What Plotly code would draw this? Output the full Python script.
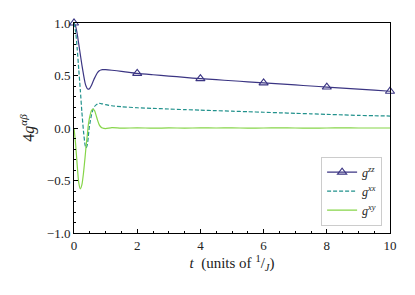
import plotly.graph_objects as go

# time samples and series values
t = [0.0, 0.05, 0.1, 0.15, 0.2, 0.25, 0.3, 0.35, 0.38, 0.42, 0.45, 0.48, 0.5, 0.55,
     0.6, 0.65, 0.7, 0.75, 0.8, 0.85, 0.9, 1.0, 1.2, 1.5, 2.0, 2.5, 3.0, 3.5, 4.0,
     4.5, 5.0, 5.5, 6.0, 6.5, 7.0, 7.5, 8.0, 8.5, 9.0, 9.5, 10.0]
g_zz = [1.0, 0.97, 0.90, 0.80, 0.70, 0.60, 0.51, 0.43, 0.40, 0.375, 0.37, 0.372, 0.378, 0.405,
        0.44, 0.475, 0.505, 0.53, 0.545, 0.552, 0.555, 0.555, 0.55, 0.54, 0.52, 0.507, 0.495, 0.482, 0.47,
        0.46, 0.45, 0.44, 0.43, 0.42, 0.41, 0.40, 0.39, 0.38, 0.37, 0.36, 0.35]
g_xx = [1.0, 0.92, 0.76, 0.56, 0.36, 0.15, -0.03, -0.16, -0.19, -0.16, -0.09, 0.0, 0.04, 0.12,
        0.175, 0.205, 0.22, 0.23, 0.235, 0.233, 0.23, 0.222, 0.212, 0.203, 0.193, 0.187, 0.181, 0.175, 0.17,
        0.165, 0.16, 0.155, 0.15, 0.145, 0.14, 0.135, 0.13, 0.125, 0.12, 0.117, 0.114]
g_xy = [0.0, -0.15, -0.35, -0.52, -0.58, -0.54, -0.43, -0.28, -0.18, -0.07, 0.02, 0.08, 0.11, 0.165,
        0.18, 0.165, 0.12, 0.07, 0.03, 0.01, 0.0, -0.005, 0.004, -0.002, 0.002, -0.002, 0.001, -0.001, 0.001,
        0.0, 0.001, -0.001, 0.0, 0.001, 0.0, -0.001, 0.0, 0.001, 0.0, 0.0, 0.0]
marker_times = [0, 2, 4, 6, 8, 10]

x_ticks = [0, 2, 4, 6, 8, 10]
y_ticks = [-1.0, -0.5, 0.0, 0.5, 1.0]
y_tick_text = ["\u22121.0", "\u22120.5", "0.0", "0.5", "1.0"]

c_zz = "#3b3583"
c_xx = "#21918c"
c_xy = "#86d549"

FONT = "Liberation Serif"

fig = go.Figure()
fig.add_trace(go.Scatter(x=t, y=g_zz, mode="lines", line=dict(color=c_zz, width=1.2, shape="spline", smoothing=0.6),
                         showlegend=False, hoverinfo="skip"))
mx = [ti for ti in t if ti in marker_times]
my = [v for ti, v in zip(t, g_zz) if ti in marker_times]
fig.add_trace(go.Scatter(x=mx, y=my, mode="markers",
                         marker=dict(symbol="triangle-up-open", size=8, color=c_zz, line=dict(width=1.1)),
                         showlegend=False, cliponaxis=False))
fig.add_trace(go.Scatter(x=[None], y=[None], mode="lines+markers", name="<i>g</i><sup><i>zz</i></sup>",
                         line=dict(color=c_zz, width=1.2),
                         marker=dict(symbol="triangle-up-open", size=8, color=c_zz, line=dict(width=1.1))))
fig.add_trace(go.Scatter(x=t, y=g_xx, mode="lines", name="<i>g</i><sup><i>xx</i></sup>",
                         line=dict(color=c_xx, width=1.2, dash="4px,2px", shape="spline", smoothing=0.6)))
fig.add_trace(go.Scatter(x=t, y=g_xy, mode="lines", name="<i>g</i><sup><i>xy</i></sup>",
                         line=dict(color=c_xy, width=1.2, shape="spline", smoothing=0.6)))

# the page body adds an 8px offset, so the figure is 8px smaller in each direction
fig.update_layout(
    width=407, height=287,
    margin=dict(l=66, r=25, t=15, b=62, autoexpand=False),
    paper_bgcolor="white", plot_bgcolor="white",
    font=dict(family=FONT, size=12, color="#222"),
    legend=dict(x=0.975, y=0.035, xanchor="right", yanchor="bottom",
                bgcolor="rgba(255,255,255,0.9)", bordercolor="#cccccc", borderwidth=1,
                font=dict(family=FONT, size=12), itemwidth=30, tracegroupgap=0),
)
fig.update_xaxes(range=[0, 10], tickvals=x_ticks, ticks="inside", ticklen=4, tickcolor="black",
                 showline=True, linecolor="black", linewidth=1, mirror=True, showgrid=False, zeroline=False,
                 minor=dict(ticks="inside", dtick=0.5, ticklen=2, tickcolor="black"),
                 tickfont=dict(size=13), automargin=False,
                 title=dict(text="<i>t</i>  (units of <sup>1</sup>/<sub><i>J</i></sub>)", font=dict(size=15), standoff=3))
fig.update_yaxes(range=[-1, 1], tickvals=y_ticks, ticktext=y_tick_text, ticks="inside", ticklen=4, tickcolor="black",
                 showline=True, linecolor="black", linewidth=1, mirror=True, showgrid=False, zeroline=False,
                 minor=dict(ticks="inside", dtick=0.1, ticklen=2, tickcolor="black"),
                 tickfont=dict(size=13), automargin=False,
                 title=dict(text="4<i>g</i><sup><i>\u03b1\u03b2</i></sup>", font=dict(size=16), standoff=8))

fig.write_html("out.html")
